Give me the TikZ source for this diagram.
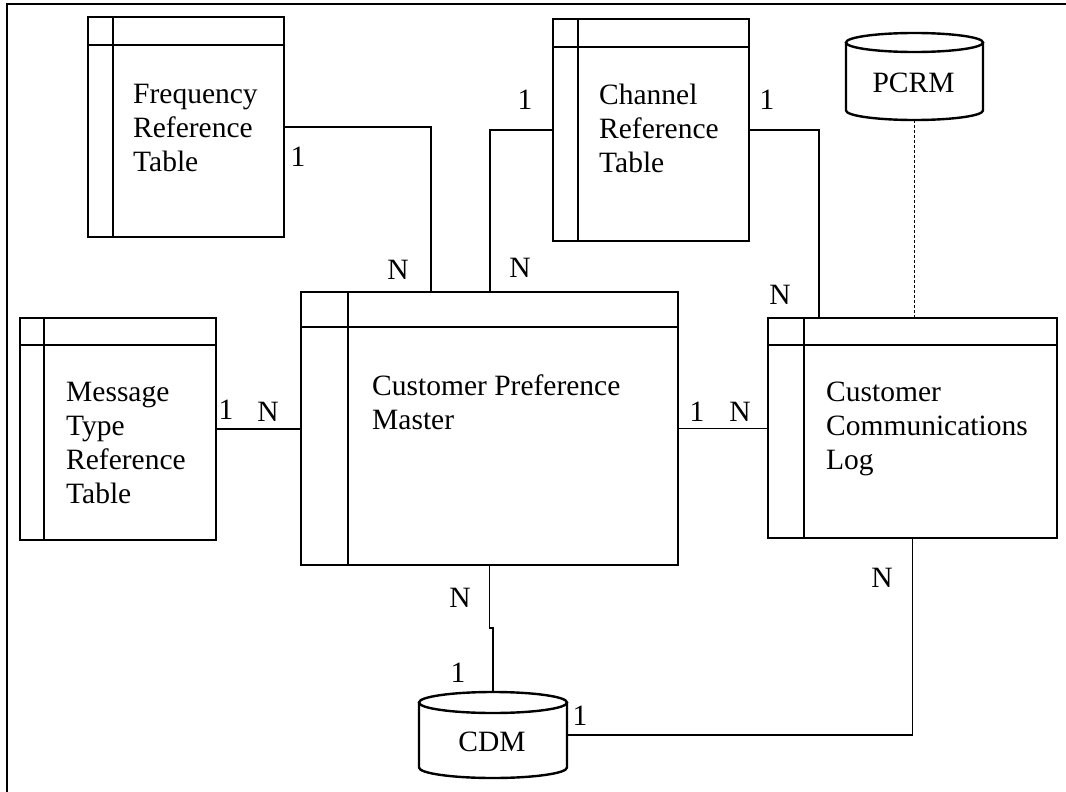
\documentclass[tikz,border=0pt]{standalone}
\usepackage{fontspec}
\setmainfont{Liberation Serif}
\usetikzlibrary{calc}
\newcommand\mycyl[5]{% L R T B ry
  \draw[cylline] ({(#1+#2)/2},{#3+#5}) ellipse [x radius={(#2-#1)/2*1pt}, y radius={#5*1pt}];
  \draw[cylline] (#1,{#3+#5}) -- (#1,{#4-#5})
    .. controls (#1,{#4-#5+0.5523*#5}) and ({(#1+#2)/2-0.5523*(#2-#1)/2},#4) .. ({(#1+#2)/2},#4)
    .. controls ({(#1+#2)/2+0.5523*(#2-#1)/2},#4) and (#2,{#4-#5+0.5523*#5}) .. (#2,{#4-#5})
    -- (#2,{#3+#5});
}
\begin{document}
\begin{tikzpicture}[x=1pt,y=-1pt,
  tbl/.style={draw, line width=2.4pt, rectangle, inner sep=0pt, outer sep=0pt, anchor=north west},
  tline/.style={line width=2.4pt},
  cylline/.style={line width=2.4pt},
  conn/.style={line width=1.1pt},
  txt/.style={font=\fontsize{29.5}{34}\selectfont, align=left, inner sep=0pt, anchor=north west},
  lbl/.style={font=\fontsize{29.5}{34}\selectfont, inner sep=0pt},
  hold/.style={inner sep=0pt, outer sep=0pt}]
\useasboundingbox (0,0) rectangle (1066,792);
% frame
\draw[line width=2pt] (7,792) -- (7,4) -- (1066,4);

% tables
\node[tbl, minimum width=196pt, minimum height=220pt] (freq) at (88,17) {};
\draw[tline] ($(freq.north west)+(0,28)$) -- ($(freq.north east)+(0,28)$);
\draw[tline] ($(freq.north west)+(25,0)$) -- ($(freq.south west)+(25,0)$);
\node[txt] (freqt) at (133,84) {Frequency\\Reference\\Table};

\node[tbl, minimum width=196pt, minimum height=222pt] (chan) at (553,19) {};
\draw[tline] ($(chan.north west)+(0,28)$) -- ($(chan.north east)+(0,28)$);
\draw[tline] ($(chan.north west)+(25,0)$) -- ($(chan.south west)+(25,0)$);
\node[txt] (chant) at (599,84) {Channel\\Reference\\Table};

\node[tbl, minimum width=196pt, minimum height=222pt] (msg) at (20,318) {};
\draw[tline] ($(msg.north west)+(0,27)$) -- ($(msg.north east)+(0,27)$);
\draw[tline] ($(msg.north west)+(24,0)$) -- ($(msg.south west)+(24,0)$);
\node[txt] (msgt) at (66,382) {Message\\Type\\Reference\\Table};

\node[tbl, minimum width=377pt, minimum height=273pt] (cpm) at (301,292) {};
\draw[tline] ($(cpm.north west)+(0,35)$) -- ($(cpm.north east)+(0,35)$);
\draw[tline] ($(cpm.north west)+(47,0)$) -- ($(cpm.south west)+(47,0)$);
\node[txt] (cpmt) at (372,375) {Customer Preference\\Master};

\node[tbl, minimum width=289pt, minimum height=220pt] (ccl) at (768,318) {};
\draw[tline] ($(ccl.north west)+(0,27)$) -- ($(ccl.north east)+(0,27)$);
\draw[tline] ($(ccl.north west)+(36,0)$) -- ($(ccl.south west)+(36,0)$);
\node[txt] (cclt) at (826,382) {Customer\\Communications\\Log};

% cylinders
\node[hold, minimum width=137pt, minimum height=87pt] (pcrm) at (914.5,76.5) {};
\mycyl{846}{983}{33}{120}{9.5}
\node[lbl] (pcrmt) at (913.5,83) {PCRM};

\node[hold, minimum width=148pt, minimum height=86pt] (cdm) at (493,735) {};
\mycyl{419}{567}{692}{778}{10.5}
\node[lbl] (cdmt) at (492,742) {CDM};

% connectors
\draw[conn] (freq.east) -| ($(cpm.north west)+(130,0)$);
\draw[conn] (chan.west) -| ($(cpm.north west)+(189,0)$);
\draw[conn] (chan.east) -| ($(ccl.north west)+(51,0)$);
\draw[conn, dash pattern=on 3pt off 2pt] (pcrm.south) -- (pcrm.south |- ccl.north);
\draw[conn] (msg.east) -- (msg.east -| cpm.west);
\draw[conn] (cpm.east) -- (cpm.east -| ccl.west);
\draw[conn] (cpm.south) -- ($(cpm.south)+(0,63)$) -| (cdm.north);
\draw[conn] (ccl.south) |- (cdm.east);

% cardinalities
\node[lbl] (l1) at (298,157) {1};
\node[lbl] (l2) at (398,270) {N};
\node[lbl] (l3) at (525,100) {1};
\node[lbl] (l4) at (520,268) {N};
\node[lbl] (l5) at (767,100) {1};
\node[lbl] (l6) at (780,295) {N};
\node[lbl] (l7) at (226,410) {1};
\node[lbl] (l8) at (268,412) {N};
\node[lbl] (l9) at (697,412) {1};
\node[lbl] (l10) at (740,412) {N};
\node[lbl] (l11) at (460,598) {N};
\node[lbl] (l12) at (458,673) {1};
\node[lbl] (l13) at (882,578) {N};
\node[lbl] (l14) at (580,716) {1};
\end{tikzpicture}
\end{document}
